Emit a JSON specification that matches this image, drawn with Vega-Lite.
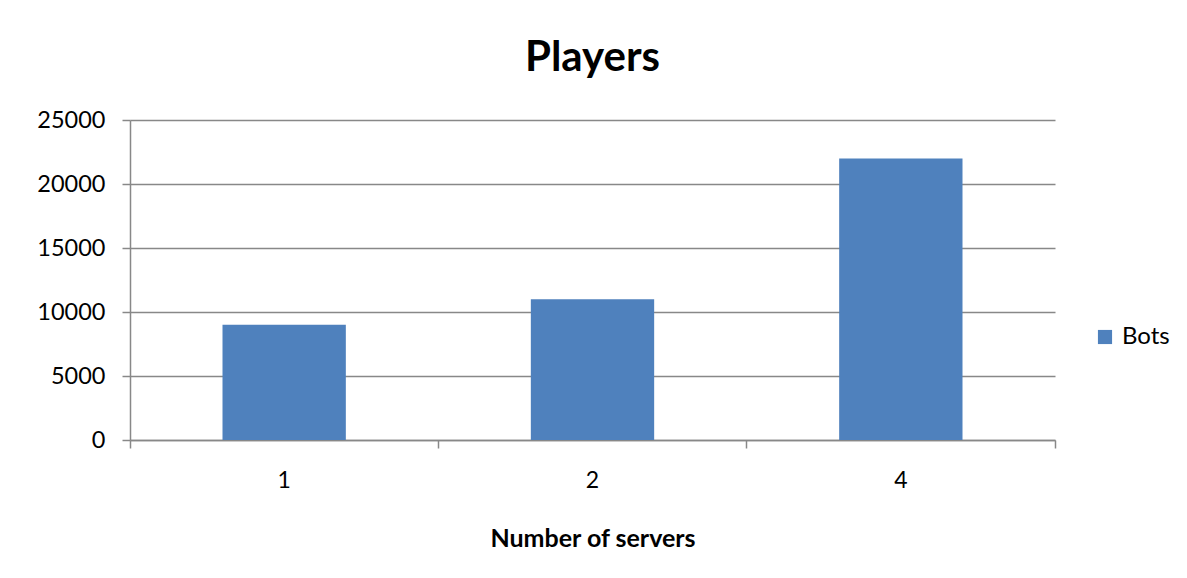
{
  "$schema": "https://vega.github.io/schema/vega-lite/v6.json",
  "autosize": {"type": "none"},
  "padding": {"left": 130, "top": 120, "right": 132, "bottom": 138},
  "width": 925,
  "height": 320,
  "background": "white",
  "title": {"text": "Players", "fontSize": 42, "font": "Lato", "fontWeight": "bold", "color": "black", "anchor": "middle", "offset": 28},
  "data": {"values": [
    {"servers": "1", "players": 9000, "series": "Bots"},
    {"servers": "2", "players": 11000, "series": "Bots"},
    {"servers": "4", "players": 22000, "series": "Bots"}
  ]},
  "config": {
    "font": "Lato",
    "view": {"stroke": null},
    "axis": {"domainColor": "#888888", "tickColor": "#888888", "gridColor": "#888888", "domainWidth": 1.5, "tickWidth": 1.5, "gridWidth": 1.5, "labelColor": "black", "titleColor": "black", "labelFont": "Lato", "titleFont": "Lato"}
  },
  "layer": [
    {
      "mark": {"type": "bar", "color": "#4F81BD"},
      "encoding": {
        "x": {"field": "servers", "type": "nominal", "sort": null,
          "scale": {"paddingInner": 0.6, "paddingOuter": 0.3},
          "axis": {"orient": "bottom", "title": "Number of servers", "titleFontSize": 25, "titleFontWeight": "bold", "titlePadding": 34, "labelFontSize": 23, "labelAngle": 0, "labelPadding": 21, "tickSize": 8, "bandPosition": -0.75, "grid": false}},
        "y": {"field": "players", "type": "quantitative",
          "scale": {"domain": [0, 25000], "nice": false},
          "axis": {"title": null, "values": [0, 5000, 10000, 15000, 20000, 25000], "format": "d", "labelFontSize": 23.5, "labelPadding": 17, "tickSize": 8, "grid": true}},
        "fill": {"field": "series", "type": "nominal",
          "scale": {"range": ["#4F81BD"]},
          "legend": {"title": null, "orient": "none", "legendX": 963, "legendY": 205, "symbolType": "square", "symbolSize": 200, "symbolStrokeWidth": 0, "labelFontSize": 24, "labelColor": "black", "labelOffset": 5}}
      }
    },
    {
      "mark": {"type": "bar", "opacity": 0},
      "encoding": {
        "x": {"field": "servers", "type": "nominal", "sort": null,
          "axis": {"orient": "bottom", "title": null, "labels": false, "domain": false, "values": ["4"], "tickSize": 8, "bandPosition": 1.75, "grid": false}},
        "y": {"field": "players", "type": "quantitative"}
      }
    }
  ],
  "resolve": {"axis": {"x": "independent"}}
}
